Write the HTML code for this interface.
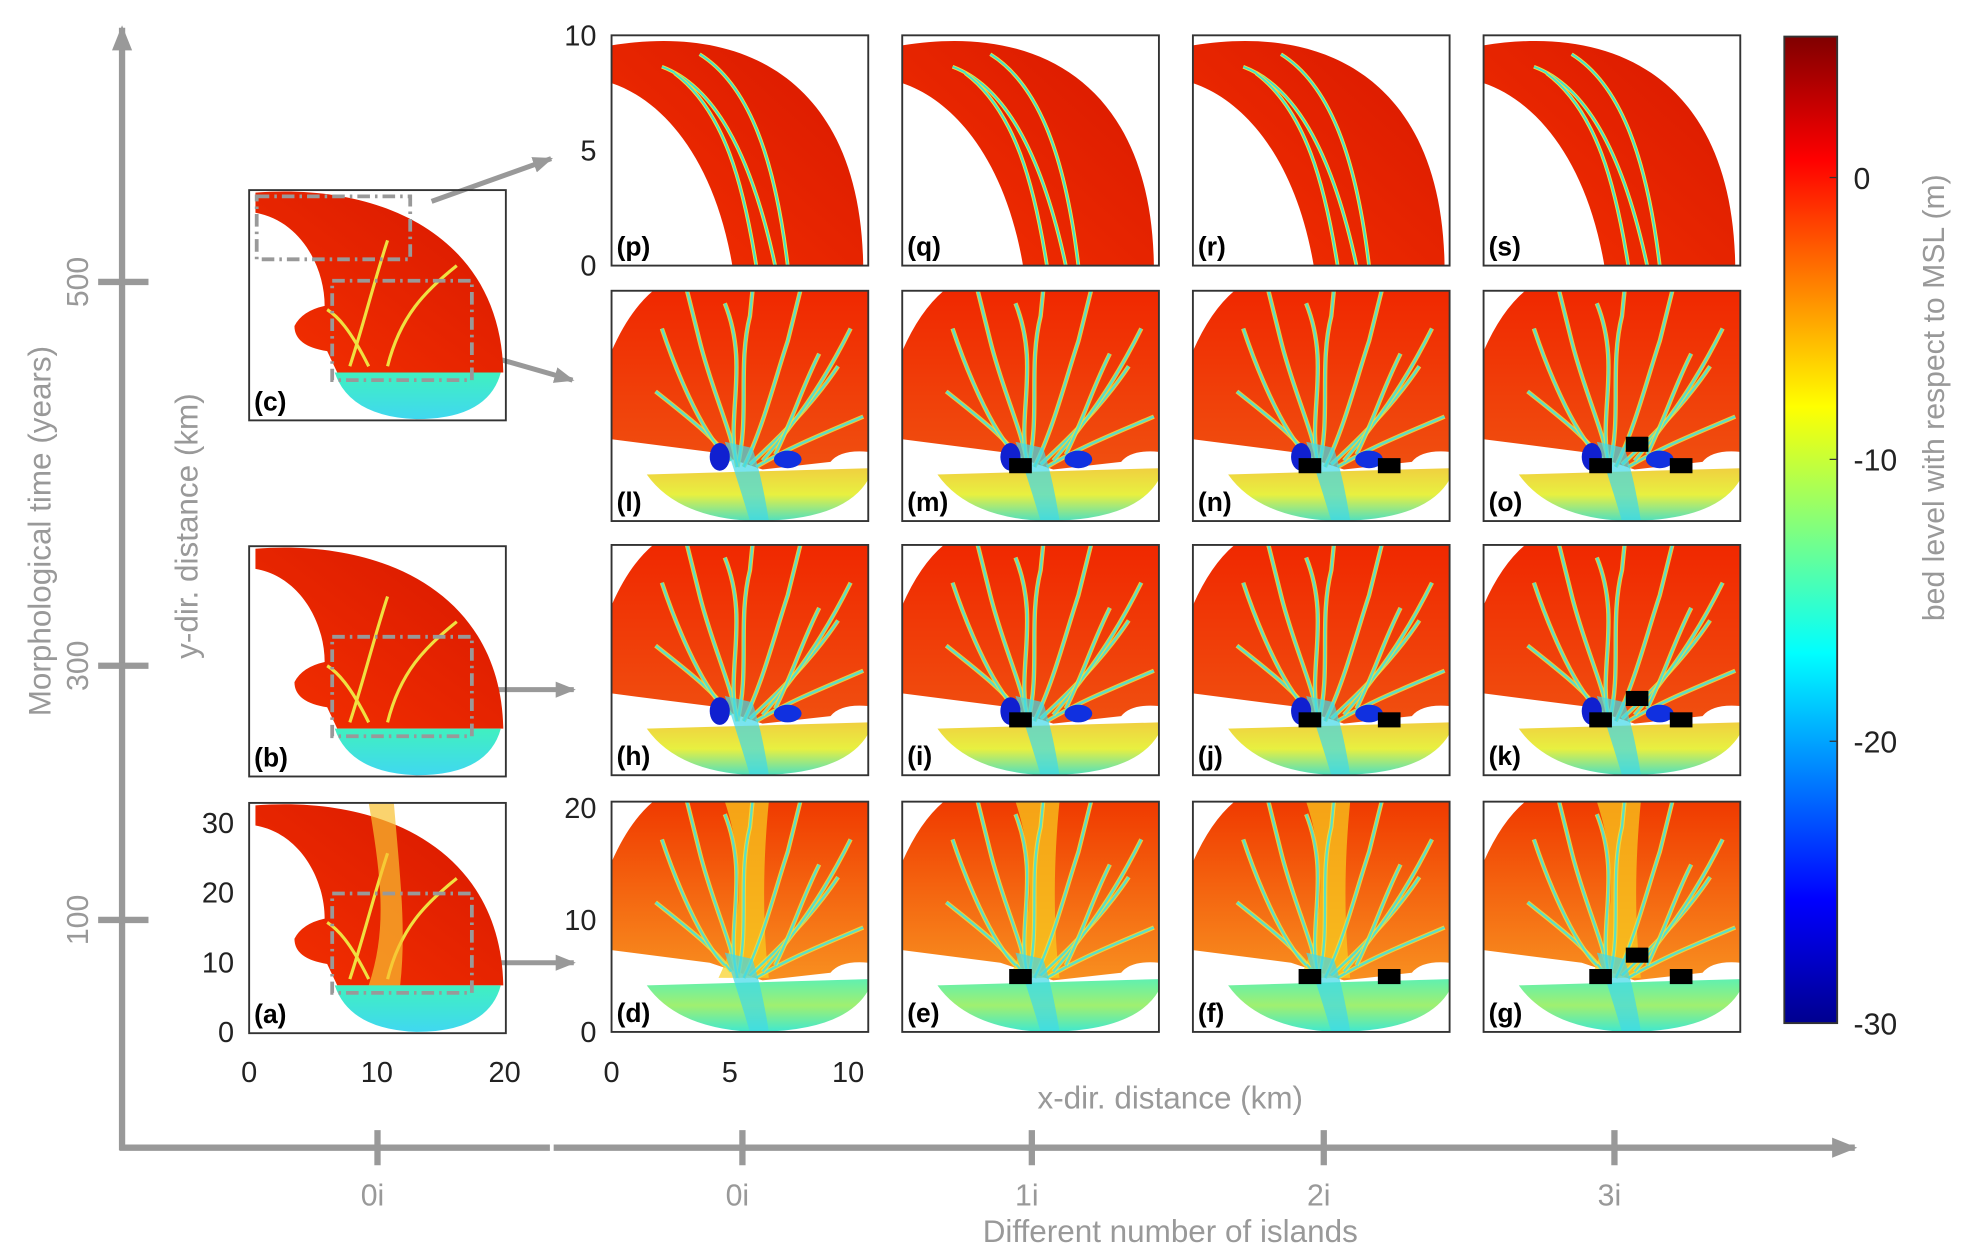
<!DOCTYPE html>
<html><head><meta charset="utf-8"><style>
html,body{margin:0;padding:0;background:#fff;}
svg{display:block;font-family:"Liberation Sans",Arial,sans-serif;}
</style></head><body>
<svg id="fig" width="1963" height="1256" viewBox="0 0 1560 998" xmlns="http://www.w3.org/2000/svg">
<defs>
<linearGradient id="jet" x1="0" y1="1" x2="0" y2="0">
<stop offset="0" stop-color="#00008f"/><stop offset="0.125" stop-color="#0000ff"/>
<stop offset="0.375" stop-color="#00ffff"/><stop offset="0.625" stop-color="#ffff00"/>
<stop offset="0.875" stop-color="#ff0000"/><stop offset="1" stop-color="#800000"/>
</linearGradient>
<linearGradient id="fanG" x1="0" y1="0" x2="0" y2="1">
<stop offset="0" stop-color="#f0d040"/><stop offset="0.5" stop-color="#e8f040"/><stop offset="1" stop-color="#50e0c0"/>
</linearGradient>
<linearGradient id="fanD" x1="0" y1="0" x2="0" y2="1">
<stop offset="0" stop-color="#60f0b0"/><stop offset="0.5" stop-color="#a0f070"/><stop offset="1" stop-color="#40e8d0"/>
</linearGradient>
<linearGradient id="fanC" x1="0" y1="0" x2="0" y2="1">
<stop offset="0" stop-color="#40f0c0"/><stop offset="1" stop-color="#40d8f0"/>
</linearGradient>
<linearGradient id="redG" x1="0" y1="0" x2="0" y2="1">
<stop offset="0" stop-color="#f02800"/><stop offset="1" stop-color="#f05010"/>
</linearGradient>
<linearGradient id="redD" x1="0" y1="0" x2="0" y2="1">
<stop offset="0" stop-color="#f03a00"/><stop offset="1" stop-color="#f89020"/>
</linearGradient>
<linearGradient id="bandG" x1="1" y1="0" x2="0" y2="1">
<stop offset="0" stop-color="#d81800"/><stop offset="1" stop-color="#f43000"/>
</linearGradient>
<marker id="ah" viewBox="0 0 10 10" refX="9" refY="5" markerWidth="4" markerHeight="4" orient="auto"><path d="M0,1 L10,5 L0,9 Z" fill="#999"/></marker>
</defs>
<g id="axes-main"></g>
<g id="panels"></g>
<g id="cbar">
<rect x="1418" y="29" width="42" height="784" fill="url(#jet)" stroke="#333" stroke-width="1.5"/>
<line x1="1454" y1="141" x2="1460" y2="141" stroke="#333"/>
<line x1="1454" y1="365" x2="1460" y2="365" stroke="#333"/>
<line x1="1454" y1="589" x2="1460" y2="589" stroke="#333"/>
<text x="1473" y="150" font-size="24" fill="#222">0</text>
<text x="1473" y="374" font-size="24" fill="#222">-10</text>
<text x="1473" y="598" font-size="24" fill="#222">-20</text>
<text x="1473" y="822" font-size="24" fill="#222">-30</text>
<text x="0" y="0" transform="translate(1545,316) rotate(-90)" text-anchor="middle" font-size="24" fill="#999">bed level with respect to MSL (m)</text>
</g>
</svg>
<script>
// ---- data arrays ----
const timeTicks = [500, 300, 100];
const timeTickY = [224, 529, 731];
const islandLabels = ["0i","0i","1i","2i","3i"];
const islandTickX = [300, 590, 820, 1052, 1283];
const smallYTicks = [30, 20, 10, 0];
const smallXTicks = [0, 10, 20];
const bigTopYTicks = [10, 5, 0];
const bigBotYTicks = [20, 10, 0];
const bigXTicks = [0, 5, 10];
const islandCounts = [0, 1, 2, 3];

const NS = "http://www.w3.org/2000/svg";
function el(tag, attrs, parent, txt){
  const e = document.createElementNS(NS, tag);
  for (const k in attrs) e.setAttribute(k, attrs[k]);
  if (txt !== undefined) e.textContent = txt;
  parent.appendChild(e); return e;
}
const ax = document.getElementById('axes-main');
const GR = "#999";
let a1 = el('line',{x1:97,y1:914,x2:97,y2:22,stroke:GR,'stroke-width':5,'marker-end':'url(#ah)'},ax);


let a2 = el('line',{x1:95,y1:912,x2:1474,y2:912,stroke:GR,'stroke-width':5,'marker-end':'url(#ah)'},ax);


el('line',{x1:437,y1:912,x2:440,y2:912,stroke:'#fff','stroke-width':6},ax);
timeTicks.forEach((v,i)=>{
  const y = timeTickY[i];
  let t = el('line',{x1:78,y1:y,x2:118,y2:y,stroke:GR,'stroke-width':5},ax);
  
  
  let tx = el('text',{x:0,y:0,transform:`translate(70,${y}) rotate(-90)`,'text-anchor':'middle','font-size':24,fill:GR},ax,String(v));
  
  
});
islandLabels.forEach((v,i)=>{
  const x = islandTickX[i];
  let t = el('line',{x1:x,y1:898,x2:x,y2:926,stroke:GR,'stroke-width':5},ax);
  
  
  let tx = el('text',{x:x-4,y:958,'text-anchor':'middle','font-size':24,fill:GR},ax,v);
  
  
});
let tt = el('text',{x:0,y:0,transform:'translate(40,422) rotate(-90)','text-anchor':'middle','font-size':25,fill:GR},ax,'Morphological time (years)');


let it = el('text',{x:930,y:987,'text-anchor':'middle','font-size':25,fill:GR},ax,'Different number of islands');


let xt = el('text',{x:930,y:881,'text-anchor':'middle','font-size':25,fill:GR},ax,'x-dir. distance (km)');


let yt = el('text',{x:0,y:0,transform:'translate(157,418) rotate(-90)','text-anchor':'middle','font-size':25,fill:GR},ax,'y-dir. distance (km)');


[[343,160,438,126],[385,282,455,302],[390,548,456,548],[390,765,456,765]].forEach(p=>{
  let a = el('line',{x1:p[0],y1:p[1],x2:p[2],y2:p[3],stroke:GR,'stroke-width':4,'marker-end':'url(#ah)'},ax);
  
  
});

// ---- panels ----
const P = document.getElementById('panels');
const W = 204, H = 183;
const channels = [
 "M100,140 C95,110 80,80 70,40 L60,0","M100,140 C110,100 100,60 110,20 L112,0",
 "M105,140 C120,110 130,70 140,40 L150,0","M110,138 C135,115 160,90 180,60",
 "M95,135 C80,115 60,100 35,80","M115,140 C140,125 165,115 200,100",
 "M90,130 C70,110 50,60 40,30","M120,135 C150,100 170,70 190,30",
 "M100,140 C90,100 110,60 90,10","M130,130 C145,100 150,80 165,50"
];
function bigFan(g, row){
  const redFill = row===0 ? 'url(#redD)' : 'url(#redG)';
  let r = el('path',{d:"M33,0 L204,0 L204,128 Q182,126 174,136 L120,142 L78,128 L0,118 L0,48 Q14,16 33,0 Z",fill:redFill},g);
  
  
  if(row===0){ el('path',{d:"M90,0 C110,60 100,110 85,140 L125,140 C120,100 120,50 125,0 Z",fill:'#f8d020',opacity:0.7},g); }
  channels.forEach(c=>{
    el('path',{d:c,fill:'none',stroke: '#f0e040','stroke-width':3.5,opacity:0.85},g);
    el('path',{d:c,fill:'none',stroke:'#40e0e0','stroke-width':1.8,opacity:0.85},g);
  });
  let f = el('path',{d:"M28,146 L204,141 L204,150 Q185,183 112,183 Q52,180 28,146 Z",fill: row===0?'url(#fanD)':'url(#fanG)'},g);
  
  
  el('path',{d:"M90,120 Q100,150 110,183 L125,183 Q120,150 112,125 Z",fill:'#40d8e8',opacity:0.7},g);
  if(row>0){
    el('ellipse',{cx:86,cy:132,rx:8,ry:11,fill:'#1020d0'},g);
    el('ellipse',{cx:140,cy:134,rx:11,ry:7,fill:'#1030e0'},g);
  }
}
function topBand(g){
  let b = el('path',{d:"M0,8 C110,-10 198,40 200,183 L96,183 C82,100 42,52 0,38 Z",fill:'url(#bandG)'},g);
  
  
  ["M40,25 C80,40 110,90 130,183","M70,15 C110,40 130,100 140,183","M50,30 C90,60 105,120 115,183"].forEach(c=>{
    el('path',{d:c,fill:'none',stroke:'#f0e040','stroke-width':3},g);
    el('path',{d:c,fill:'none',stroke:'#40e0d0','stroke-width':1.5},g);
  });
}
function smallDomain(g, idx){
  let r = el('path',{d:"M5,2 C110,-6 200,40 202,145 L70,145 L62,128 Q36,124 36,108 Q42,96 60,92 C60,60 40,24 5,18 Z",fill:'url(#bandG)'},g);
  
  
  el('path',{d:"M80,140 C90,110 100,70 110,40 M110,140 C120,100 140,80 165,60 M95,140 C80,110 70,100 62,95",fill:'none',stroke:'#f0e040','stroke-width':2.5},g);
  if(idx===0) el('path',{d:"M95,145 C110,100 105,60 95,0 L115,0 C120,60 125,100 120,145 Z",fill:'#f8c030',opacity:0.7},g);
  let f = el('path',{d:"M68,145 L200,145 Q190,182 133,182 Q80,180 68,145 Z",fill:'url(#fanC)'},g);
  
  
}
function frame(g){
  let f = el('rect',{x:0,y:0,width:W,height:H,fill:'none',stroke:'#333','stroke-width':1.5},g);
  
  
}
function label(g, s){
  let t = el('text',{x:4,y:H-8,'font-size':21,'font-weight':'bold',fill:'#000'},g,'('+s+')');
  
  
}
function dashRect(g,x1,y1,x2,y2){
  let d = el('rect',{x:x1,y:y1,width:x2-x1,height:y2-y1,fill:'none',stroke:'#999','stroke-width':3,'stroke-dasharray':'10,4,2,4'},g);
  
  
}
const smallY = [638, 434, 151];
const smallLab = ['a','b','c'];
smallY.forEach((y,i)=>{
  const g = el('g',{transform:`translate(198,${y})`},P);
  
  
  smallDomain(g,i);
  if(i===2) dashRect(g,6,5,128,55);
  dashRect(g,66,72,177,151);
  frame(g); label(g, smallLab[i]);
});
smallYTicks.forEach(v=>{
  let t = el('text',{x:186,y:820-(v/30)*166+8,'text-anchor':'end','font-size':23,fill:'#222'},P,String(v));
  
  
});
smallXTicks.forEach(v=>{
  let t = el('text',{x:198+(v/20)*203,y:860,'text-anchor':'middle','font-size':23,fill:'#222'},P,String(v));
  
  
});
const colX = [486, 717, 948, 1179];
const rowY = [637, 433, 231, 28];
const labels = [['d','e','f','g'],['h','i','j','k'],['l','m','n','o'],['p','q','r','s']];
const islandOffsets = [[],[94],[93,156],[93,122,157]];
rowY.forEach((y,ri)=>{
  colX.forEach((x,ci)=>{
    const g = el('g',{transform:`translate(${x},${y})`},P);
    
    
    if(ri===3) topBand(g); else {
      bigFan(g, ri);
      const n = islandCounts[ci];
      islandOffsets[n].forEach((ox,k)=>{
        const raised = (n===3 && k===1);
        const yy = raised ? 116 : 133;
        let b = el('rect',{x:ox-9,y:yy,width:18,height:12,fill:'#000'},g);
        
        
      });
    }
    frame(g); label(g, labels[ri][ci]);
  });
});
bigTopYTicks.forEach(v=>{
  let t = el('text',{x:474,y:28+(10-v)/10*183+8,'text-anchor':'end','font-size':23,fill:'#222'},P,String(v));
  
  
});
bigBotYTicks.forEach(v=>{
  let t = el('text',{x:474,y:820-(v/20)*178+8,'text-anchor':'end','font-size':23,fill:'#222'},P,String(v));
  
  
});
bigXTicks.forEach(v=>{
  let t = el('text',{x:486+(v/10)*188,y:860,'text-anchor':'middle','font-size':23,fill:'#222'},P,String(v));
  
  
});
</script>
</body></html>
